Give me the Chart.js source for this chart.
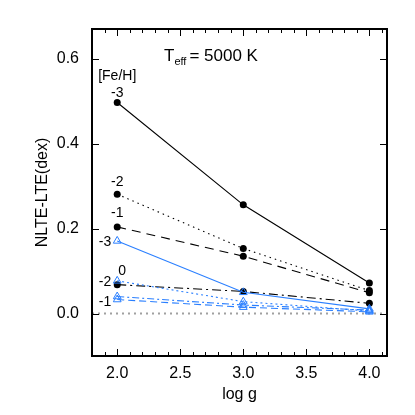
<!DOCTYPE html>
<html><head><meta charset="utf-8">
<script src="https://cdn.jsdelivr.net/npm/chart.js@4"></script>
<style>html,body{margin:0;padding:0;background:#fff}</style>
</head><body>
<canvas id="c" width="415" height="415"></canvas>
<script>
const logg = [2.0, 3.0, 4.0];
const fehLabels = ['-3', '-2', '-1', '0'];
// black filled circles
const blackM3 = [0.497, 0.256, 0.072];
const blackM2 = [0.281, 0.153, 0.054];
const blackM1 = [0.204, 0.135, 0.049];
const black0  = [0.068, 0.052, 0.024];
// blue open triangles
const blueM3 = [0.171, 0.050, 0.011];
const blueM2 = [0.077, 0.028, 0.006];
const blueM1 = [0.033, 0.015, 0.004];
const blue0  = [0.040, 0.020, 0.008];
const xTicks = [2.0, 2.5, 3.0, 3.5, 4.0];
const xMinorTicks = [1.9, 2.0, 2.1, 2.2, 2.3, 2.4, 2.5, 2.6, 2.7, 2.8, 2.9, 3.0, 3.1, 3.2, 3.3, 3.4, 3.5, 3.6, 3.7, 3.8, 3.9, 4.0, 4.1];
const yTicks = [0.0, 0.2, 0.4, 0.6];

const FONT = '"Liberation Sans", Arial, Helvetica, sans-serif';
const BLUE = '#2a7fff';
Chart.defaults.font.family = FONT;
Chart.defaults.color = '#000';

function pts(arr) { return logg.map((x, i) => ({ x: x, y: arr[i] })); }

function blackSet(label, arr, dash) {
  return { label, data: pts(arr), borderColor: '#000', borderWidth: 1.1, borderDash: dash,
    pointStyle: 'circle', pointRadius: 3.5, pointBackgroundColor: '#000', pointBorderColor: '#000',
    pointBorderWidth: 0, fill: false, tension: 0 };
}
function blueSet(label, arr, dash) {
  return { label, data: pts(arr), borderColor: BLUE, borderWidth: 1.1, borderDash: dash,
    pointStyle: 'triangle', pointRadius: 4.5, pointBackgroundColor: 'rgba(0,0,0,0)', pointBorderColor: BLUE,
    pointBorderWidth: 1, fill: false, tension: 0 };
}

const datasets = [
  blueSet('blue ' + fehLabels[0], blueM3, []),
  blueSet('blue ' + fehLabels[1], blueM2, [2, 3]),
  blueSet('blue ' + fehLabels[2], blueM1, [7, 4]),
  blueSet('blue ' + fehLabels[3], blue0, [7, 3, 2, 3]),
  blackSet('black ' + fehLabels[0], blackM3, []),
  blackSet('black ' + fehLabels[1], blackM2, [1.5, 4]),
  blackSet('black ' + fehLabels[2], blackM1, [9, 6]),
  blackSet('black ' + fehLabels[3], black0, [9, 4, 2, 4]),
];

// label placements: [dataset array, label, dx, dy, align]
const annotations = [
  [blackM3, fehLabels[0], 0, -5, 'center'],
  [blackM2, fehLabels[1], 0, -8, 'center'],
  [blackM1, fehLabels[2], 0, -10, 'center'],
  [black0,  fehLabels[3], 5, -10, 'center'],
  [blueM3,  fehLabels[0], -6, 5, 'right'],
  [blueM2,  fehLabels[1], -6, 5, 'right'],
  [blueM1,  fehLabels[2], -6, 6, 'right'],
];

const framePlugin = {
  id: 'frame',
  beforeDatasetsDraw(chart) {
    const { ctx, chartArea: a, scales: { y } } = chart;
    const y0 = y.getPixelForValue(0);
    ctx.save();
    ctx.strokeStyle = '#a0a0a0';
    ctx.lineWidth = 2;
    ctx.setLineDash([2, 4]);
    ctx.beginPath(); ctx.moveTo(a.left, y0); ctx.lineTo(a.right, y0); ctx.stroke();
    ctx.restore();
  },
  afterDraw(chart) {
    const { ctx, chartArea: a, scales: { x, y } } = chart;
    ctx.save();
    ctx.strokeStyle = '#000';
    ctx.lineWidth = 1;
    ctx.beginPath();
    xMinorTicks.forEach(v => {
      const px = Math.round(x.getPixelForValue(v)) + 0.5;
      const major = xTicks.some(t => Math.abs(t - v) < 1e-6);
      const len = major ? 7 : 4;
      ctx.moveTo(px, a.bottom); ctx.lineTo(px, a.bottom - len);
      ctx.moveTo(px, a.top); ctx.lineTo(px, a.top + len);
    });
    yTicks.forEach(v => {
      const py = Math.round(y.getPixelForValue(v)) + 0.5;
      ctx.moveTo(a.left, py); ctx.lineTo(a.left + 7, py);
      ctx.moveTo(a.right, py); ctx.lineTo(a.right - 7, py);
    });
    ctx.stroke();
    ctx.lineWidth = 2;
    ctx.strokeRect(a.left, a.top, a.right - a.left, a.bottom - a.top);

    // annotations
    ctx.fillStyle = '#000';
    ctx.font = '14px ' + FONT;
    ctx.textBaseline = 'alphabetic';
    ctx.textAlign = 'center';
    ctx.fillText('[Fe/H]', x.getPixelForValue(logg[0]), 80);
    annotations.forEach(([arr, txt, dx, dy, align]) => {
      ctx.textAlign = align;
      ctx.fillText(txt, x.getPixelForValue(logg[0]) + dx, y.getPixelForValue(arr[0]) + dy);
    });

    // T_eff title
    ctx.textAlign = 'left';
    ctx.font = '17px ' + FONT;
    let tx = 164, ty = 61;
    ctx.fillText('T', tx, ty);
    tx += ctx.measureText('T').width;
    ctx.font = '11px ' + FONT;
    ctx.fillText('eff', tx, ty + 4);
    tx += ctx.measureText('eff').width + 3;
    ctx.font = '17px ' + FONT;
    ctx.fillText('= 5000 K', tx, ty);
    ctx.restore();
  }
};

new Chart(document.getElementById('c'), {
  type: 'line',
  data: { datasets },
  options: {
    responsive: false,
    animation: false,
    devicePixelRatio: 1,
    layout: { padding: { top: 29, right: 28, left: 0, bottom: 0 } },
    plugins: { legend: { display: false }, tooltip: { enabled: false } },
    scales: {
      x: {
        type: 'linear', min: 1.8, max: 4.14,
        afterBuildTicks: s => { s.ticks = xTicks.map(v => ({ value: v })); },
        afterFit: s => { s.height = 59; },
        grid: { display: false }, border: { display: false },
        ticks: { font: { size: 16 }, padding: 0, color: '#000', maxRotation: 0,
          callback: v => Number(v).toFixed(1) },
        title: { display: true, text: 'log g', font: { size: 16 }, color: '#000', padding: { top: 0, bottom: 11 } }
      },
      y: {
        type: 'linear', min: -0.1, max: 0.67,
        afterBuildTicks: s => { s.ticks = yTicks.map(v => ({ value: v })); },
        afterFit: s => { s.width = 92; },
        grid: { display: false }, border: { display: false },
        ticks: { font: { size: 16 }, padding: 5, color: '#000',
          callback: v => Number(v).toFixed(1) },
        title: { display: true, text: 'NLTE-LTE(dex)', font: { size: 16 }, color: '#000', padding: { top: 33, bottom: 0 } }
      }
    }
  },
  plugins: [framePlugin]
});
</script>
</body></html>
